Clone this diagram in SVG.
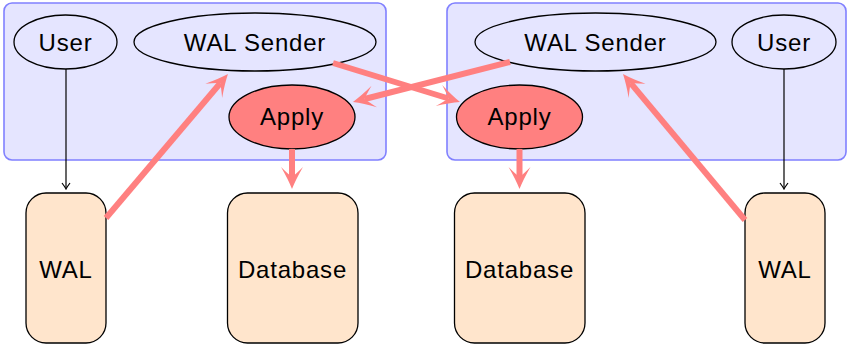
<svg xmlns="http://www.w3.org/2000/svg" width="847" height="345" viewBox="0 0 847 345">
<style>
.container{fill:#e5e5ff;stroke:#8080ff;stroke-width:1.6}
.ell{fill:none;stroke:#000;stroke-width:1.3}
.apply{fill:#ff8080;stroke:#000;stroke-width:1.3}
.box{fill:#ffe5cc;stroke:#000;stroke-width:1.3}
text{font-family:"Liberation Sans",Arial,sans-serif;font-size:24px;letter-spacing:0.8px;text-anchor:middle;fill:#000}
.red{stroke:#ff8080;stroke-width:6;fill:none;marker-end:url(#redhead)}
.blk{stroke:#000;stroke-width:1.2;fill:none;marker-end:url(#blkhead)}
</style>
<defs>
<marker id="redhead" markerUnits="userSpaceOnUse" viewBox="-24 -12 26 24" markerWidth="26" markerHeight="24" refX="-12" refY="0" orient="auto">
<path d="M0,0 Q-10,-4 -22,-11 Q-15,-4 -12,0 Q-15,4 -22,11 Q-10,4 0,0 Z" fill="#ff8080"/>
</marker>
<marker id="blkhead" markerUnits="userSpaceOnUse" viewBox="-8 -5 9 10" markerWidth="9" markerHeight="10" refX="-1" refY="0" orient="auto">
<path d="M-6,-4 Q-2,-1 0,0 Q-2,1 -6,4" fill="none" stroke="#000" stroke-width="1.2"/>
</marker>
</defs>
<g id="left-server">
<rect class="container" x="4" y="3" width="382" height="157" rx="8"/>
</g>
<g id="right-server">
<rect class="container" x="447" y="3" width="399" height="157" rx="8"/>
</g>
<g id="user-left"><ellipse class="ell" cx="65.5" cy="42" rx="51.5" ry="27"/><text x="65.5" y="51">User</text></g>
<g id="sender-left"><ellipse class="ell" cx="255" cy="42" rx="121" ry="29"/><text x="255" y="51">WAL Sender</text></g>
<g id="apply-left"><ellipse class="apply" cx="292" cy="117" rx="63" ry="32"/><text x="292" y="125">Apply</text></g>
<g id="sender-right"><ellipse class="ell" cx="595.5" cy="42" rx="120.5" ry="29"/><text x="595.5" y="51">WAL Sender</text></g>
<g id="user-right"><ellipse class="ell" cx="784" cy="42" rx="52" ry="27"/><text x="784" y="51">User</text></g>
<g id="apply-right"><ellipse class="apply" cx="519.5" cy="117" rx="63" ry="32"/><text x="519.5" y="125">Apply</text></g>
<g id="wal-left"><rect class="box" x="26" y="193" width="80" height="150" rx="20"/><text x="66" y="278">WAL</text></g>
<g id="db-left"><rect class="box" x="227.5" y="193" width="130.5" height="150" rx="20"/><text x="292.5" y="278">Database</text></g>
<g id="db-right"><rect class="box" x="454.5" y="193" width="130.5" height="150" rx="20"/><text x="519.5" y="278">Database</text></g>
<g id="wal-right"><rect class="box" x="745" y="193" width="80" height="150" rx="20"/><text x="785" y="278">WAL</text></g>
<g id="connectors">
<line class="blk" x1="66" y1="69" x2="66" y2="188"/>
<line class="blk" x1="784" y1="69" x2="784" y2="188"/>
<line class="red" x1="292" y1="149" x2="292" y2="177"/>
<line class="red" x1="519.5" y1="149" x2="519.5" y2="177"/>
<line class="red" x1="106" y1="218" x2="220.2" y2="83.2"/>
<line class="red" x1="745" y1="220" x2="630.7" y2="83.2"/>
<line class="red" x1="333" y1="63" x2="448.5" y2="98.5"/>
<line class="red" x1="510" y1="62" x2="364.6" y2="99"/>
</g>
</svg>
